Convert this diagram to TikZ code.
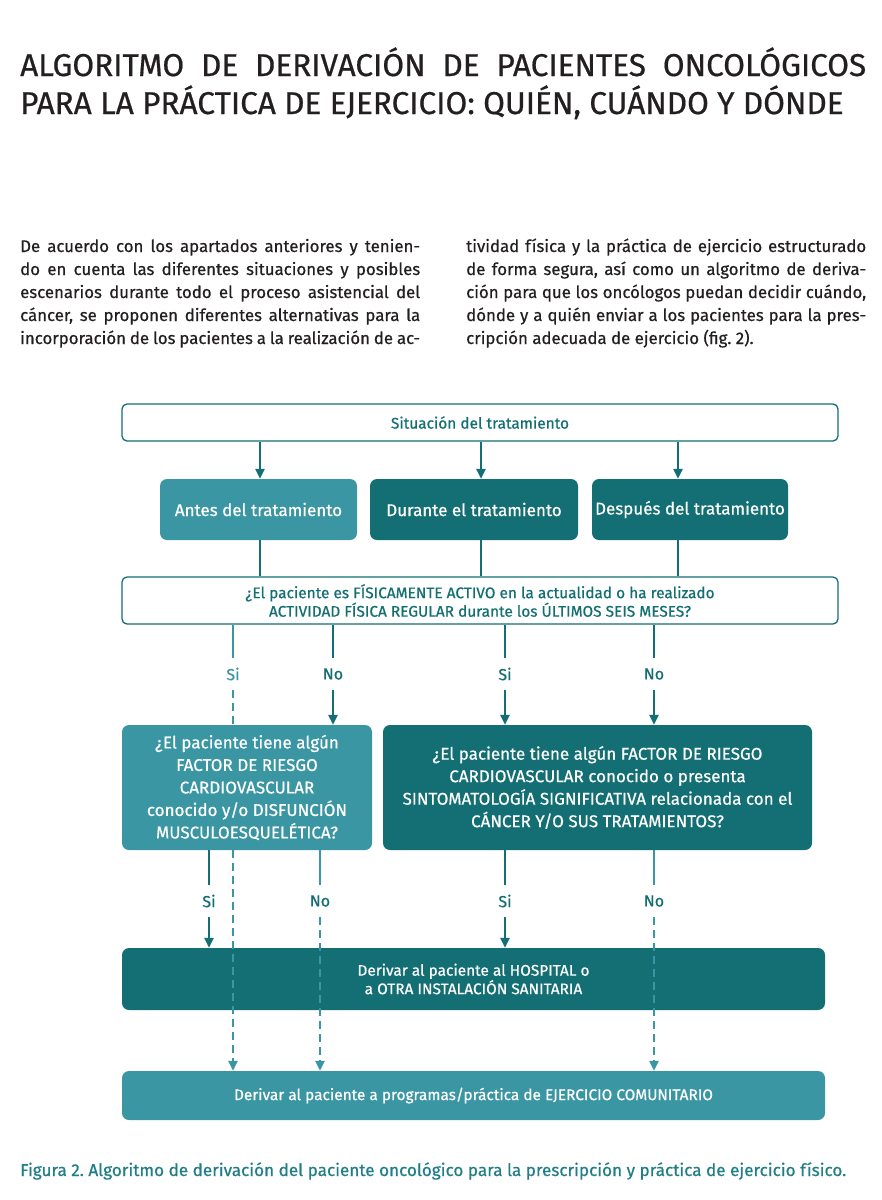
\documentclass[tikz,border=0pt]{standalone}
\usepackage{fontspec}
\setmainfont[FakeBold=0.6]{Fira Sans}
\frenchspacing
\usetikzlibrary{arrows.meta,positioning}
\definecolor{tealclaro}{HTML}{3A96A3}
\definecolor{tealoscuro}{HTML}{136F73}
\definecolor{tealleyenda}{HTML}{207E86}
\definecolor{gristitulo}{HTML}{231F20}
\tikzset{
  titulo/.style={inner sep=0pt, text=gristitulo, font=\fontsize{31.5}{39}\selectfont},
  parrafo/.style={inner sep=0pt, text width=400pt, align=justify, text=gristitulo, font=\fontsize{16.8}{23}\selectfont},
  caja/.style={rectangle, rounded corners=7pt, inner sep=0pt, align=center, text=white, font=\fontsize{15.4}{18.5}\selectfont},
  grande/.style={font=\fontsize{17}{22.5}\selectfont},
  clara/.style={caja, fill=tealclaro},
  oscura/.style={caja, fill=tealoscuro},
  blanca/.style={caja, draw=tealoscuro, line width=1.3pt, fill=white, text=tealoscuro, rounded corners=5pt},
  linea/.style={draw=tealoscuro, line width=2.6pt},
  lineaclara/.style={draw=tealclaro, line width=2.6pt},
  punteada/.style={lineaclara, dash pattern=on 8pt off 5pt},
  flecha/.style={-{Triangle[length=10pt,width=9pt]}},
  etiqueta/.style={inner sep=0pt, minimum height=32pt, text=tealoscuro, font=\fontsize{16}{18}\selectfont},
  leyenda/.style={inner sep=0pt, text=tealleyenda, font=\fontsize{17.1}{18}\selectfont}
}
\begin{document}
\begin{tikzpicture}[x=1pt, y=-1pt]
\useasboundingbox (0,0) rectangle (882,1200);
% titulo y texto
\node[titulo, anchor=base west] (tit1) at (20,76) {\makebox[846pt][s]{ALGORITMO DE DERIVACIÓN DE PACIENTES ONCOLÓGICOS}};
\node[titulo, anchor=base west] (tit2) at (20,114) {PARA LA PRÁCTICA DE EJERCICIO: QUIÉN, CUÁNDO Y DÓNDE};
\node[parrafo, anchor=base west] (col1) at (20,252) {%
  \makebox[400pt][s]{De acuerdo con los apartados anteriores y tenien-}\\
  \makebox[400pt][s]{do en cuenta las diferentes situaciones y posibles}\\
  \makebox[400pt][s]{escenarios durante todo el proceso asistencial del}\\
  \makebox[400pt][s]{cáncer, se proponen diferentes alternativas para la}\\
  \makebox[400pt][s]{incorporación de los pacientes a la realización de ac-}};
\node[parrafo, anchor=base west] (col2) at (466,252) {%
  \makebox[400pt][s]{tividad física y la práctica de ejercicio estructurado}\\
  \makebox[400pt][s]{de forma segura, así como un algoritmo de deriva-}\\
  \makebox[400pt][s]{ción para que los oncólogos puedan decidir cuándo,}\\
  \makebox[400pt][s]{dónde y a quién enviar a los pacientes para la pres-}\\
  cripción adecuada de ejercicio (fig. 2).\hfill\null};
% cajas
\node[blanca, minimum width=716pt, minimum height=37pt] (sit) at (480,422.5) {Situación del tratamiento};
\node[clara, grande, minimum width=197pt, minimum height=61pt] (antes) at (258.5,509.5) {Antes del tratamiento};
\node[oscura, grande, minimum width=208pt, minimum height=61pt] (durante) at (474,509.5) {Durante el tratamiento};
\node[oscura, grande, minimum width=196pt, minimum height=61pt] (despues) at (690,509.5) {Después del tratamiento};
\node[blanca, minimum width=716pt, minimum height=47pt] (activo) at (480,600.5) {¿El paciente es FÍSICAMENTE ACTIVO en la actualidad o ha realizado\\ACTIVIDAD FÍSICA REGULAR durante los ÚLTIMOS SEIS MESES?};
\node[clara, grande, minimum width=250pt, minimum height=125pt] (riesgoA) at (247,787.5) {¿El paciente tiene algún\\FACTOR DE RIESGO\\CARDIOVASCULAR\\conocido y/o DISFUNCIÓN\\MUSCULOESQUELÉTICA?};
\node[oscura, grande, minimum width=429pt, minimum height=125pt] (riesgoB) at (597.5,787.5) {¿El paciente tiene algún FACTOR DE RIESGO\\CARDIOVASCULAR conocido o presenta\\SINTOMATOLOGÍA SIGNIFICATIVA relacionada con el\\CÁNCER Y/O SUS TRATAMIENTOS?};
\node[oscura, minimum width=703pt, minimum height=62pt] (hospital) at (473.5,979) {Derivar al paciente al HOSPITAL o\\a OTRA INSTALACIÓN SANITARIA};
\node[clara, minimum width=703pt, minimum height=49pt] (comunitario) at (473.5,1095.5) {Derivar al paciente a programas/práctica de EJERCICIO COMUNITARIO};
% etiquetas si/no
\node[etiqueta, text=tealclaro] (si1) at (233,674) {Si};
\node[etiqueta] (no1) at (333,674) {No};
\node[etiqueta] (si2) at (505,674) {Si};
\node[etiqueta] (no2) at (654,674) {No};
\node[etiqueta] (si3) at (209,901) {Si};
\node[etiqueta] (no3) at (320,901) {No};
\node[etiqueta] (si4) at (505,901) {Si};
\node[etiqueta] (no4) at (654,901) {No};
% conectores
\coordinate (c1) at (260,0);
\coordinate (c2) at (481,0);
\coordinate (c3) at (678,0);
\foreach \c/\b in {c1/antes, c2/durante, c3/despues} {
  \draw[linea, flecha] (sit.south -| \c) -- (\b.north -| \c);
  \draw[linea] (\b.south -| \c) -- (activo.north -| \c);
}
\draw[lineaclara] (activo.south -| si1) -- (si1.north);
\draw[punteada] (si1.south) -- (riesgoA.north -| si1);
\draw[punteada, flecha] (riesgoA.south -| si1) -- (comunitario.north -| si1);
\foreach \e/\d in {no1/riesgoA, si2/riesgoB, no2/riesgoB} {
  \draw[linea] (activo.south -| \e) -- (\e.north);
  \draw[linea, flecha] (\e.south) -- (\d.north -| \e);
}
\draw[linea] (riesgoA.south -| si3) -- (si3.north);
\draw[linea, flecha] (si3.south) -- (hospital.north -| si3);
\draw[lineaclara] (riesgoA.south -| no3) -- (no3.north);
\draw[punteada, flecha] (no3.south) -- (comunitario.north -| no3);
\draw[linea] (riesgoB.south -| si4) -- (si4.north);
\draw[linea, flecha] (si4.south) -- (hospital.north -| si4);
\draw[lineaclara] (riesgoB.south -| no4) -- (no4.north);
\draw[punteada, flecha] (no4.south) -- (comunitario.north -| no4);
% leyenda
\node[leyenda, anchor=base west] (fig) at (20,1176) {Figura 2. Algoritmo de derivación del paciente oncológico para la prescripción y práctica de ejercicio físico.};
\end{tikzpicture}
\end{document}
